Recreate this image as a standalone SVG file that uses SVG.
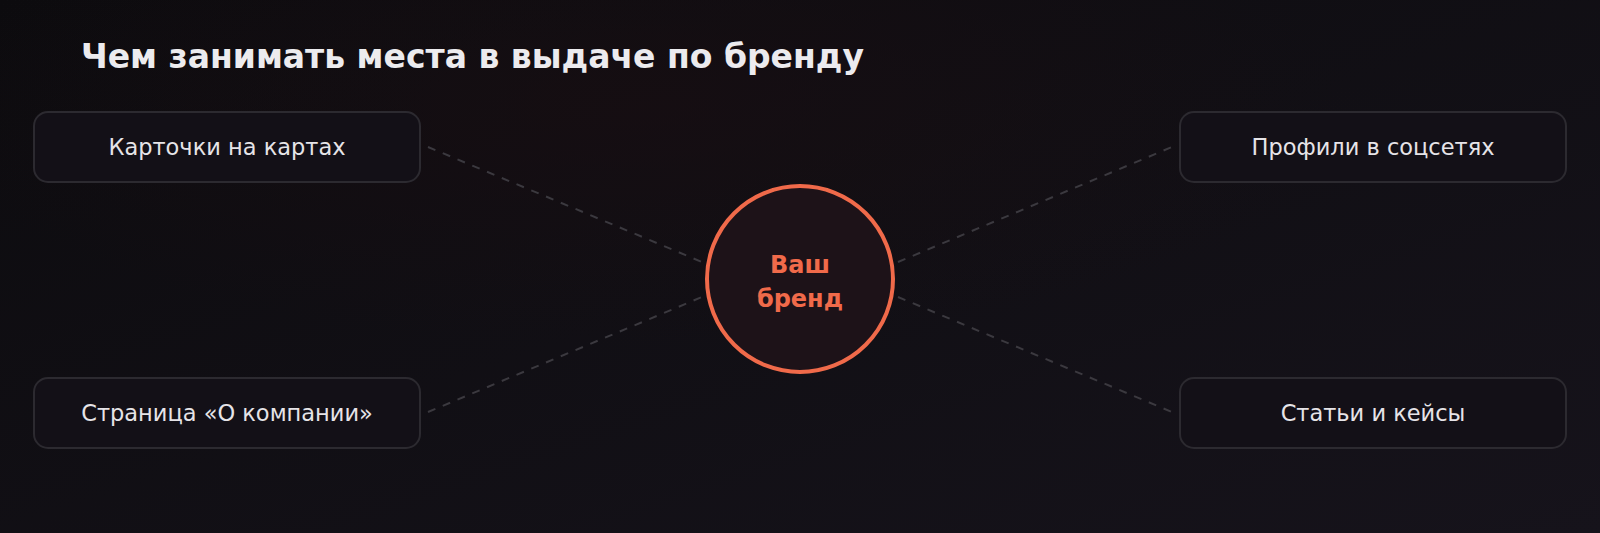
<svg xmlns="http://www.w3.org/2000/svg" width="1600" height="533" viewBox="0 0 1600 533">
<defs>
<linearGradient id="bg" x1="0" y1="0" x2="1" y2="1">
<stop offset="0" stop-color="#0c0b0e"/>
<stop offset="1" stop-color="#16131b"/>
</linearGradient>
<radialGradient id="glow" cx="0.4" cy="0.2" r="0.45">
<stop offset="0" stop-color="#180e12" stop-opacity="0.7"/>
<stop offset="1" stop-color="#180e12" stop-opacity="0"/>
</radialGradient>
<style>
.box{fill:#131017;stroke:#2c2a30;stroke-width:2}
.lbl{font-family:"DejaVu Sans","Noto Sans",sans-serif;font-size:22.5px;fill:#e6e4e8;text-anchor:middle}
.conn{stroke:#3b393f;stroke-width:2;stroke-dasharray:8 8;fill:none}
.ctr{font-family:"DejaVu Sans","Noto Sans",sans-serif;font-weight:bold;font-size:24px;fill:#f06a4a;text-anchor:middle}
</style>
</defs>
<rect width="1600" height="533" fill="url(#bg)"/>
<rect width="1600" height="533" fill="url(#glow)"/>
<text x="81" y="68" font-family="DejaVu Sans, sans-serif" font-weight="bold" font-size="33" fill="#ecebee">Чем занимать места в выдаче по бренду</text>
<g id="connectors">
<line class="conn" x1="428" y1="147" x2="702" y2="262"/>
<line class="conn" x1="428" y1="412" x2="702" y2="297"/>
<line class="conn" x1="898" y1="262" x2="1172" y2="147"/>
<line class="conn" x1="898" y1="297" x2="1172" y2="412"/>
</g>
<g id="n1"><rect class="box" x="34" y="112" width="386" height="70" rx="14"/><text class="lbl" x="227" y="155">Карточки на картах</text></g>
<g id="n2"><rect class="box" x="1180" y="112" width="386" height="70" rx="14"/><text class="lbl" x="1373" y="155">Профили в соцсетях</text></g>
<g id="n3"><rect class="box" x="34" y="378" width="386" height="70" rx="14"/><text class="lbl" x="227" y="421">Страница «О компании»</text></g>
<g id="n4"><rect class="box" x="1180" y="378" width="386" height="70" rx="14"/><text class="lbl" x="1373" y="421">Статьи и кейсы</text></g>
<g id="center"><circle cx="800" cy="279" r="93" fill="#1d1218" stroke="#f06a4a" stroke-width="4"/>
<text class="ctr" x="800" y="273">Ваш</text>
<text class="ctr" x="800" y="307">бренд</text></g>
</svg>
